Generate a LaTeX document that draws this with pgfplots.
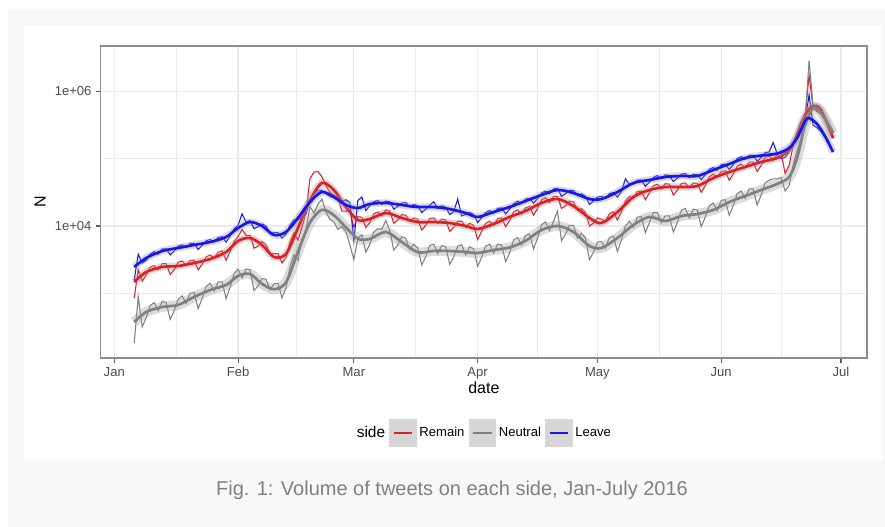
\documentclass[border=0pt]{standalone}
\usepackage{fontspec}
\setmainfont{Liberation Sans}
\usepackage{pgfplots}
\pgfplotsset{compat=1.18}
\usepackage{pgfplotstable}
\definecolor{remain}{RGB}{228,28,36}
\definecolor{neutral}{RGB}{128,128,128}
\definecolor{leave}{RGB}{22,22,238}
\definecolor{band}{RGB}{153,153,153}
\definecolor{keybg}{RGB}{214,214,214}
\definecolor{gridc}{RGB}{235,235,235}
\definecolor{framebg}{RGB}{248,248,248}
\definecolor{ticktext}{RGB}{77,77,77}
\definecolor{bordergray}{RGB}{140,140,140}
\definecolor{tickgray}{RGB}{90,90,90}
\definecolor{captiongray}{RGB}{128,128,128}

% x = day of 2016 (Jan 1 = 0); values = log10 of the daily tweet count N
\pgfplotstableread{
d R N L
5 2.93 2.26 3.20
6 3.35 2.95 3.58
7 3.18 2.50 3.45
8 3.27 2.64 3.49
9 3.39 2.82 3.58
10 3.41 2.86 3.62
11 3.35 2.74 3.58
12 3.44 2.88 3.66
13 3.44 2.86 3.66
14 3.28 2.61 3.57
15 3.35 2.74 3.63
16 3.46 2.91 3.70
17 3.48 2.96 3.72
18 3.41 2.85 3.68
19 3.49 3.00 3.74
20 3.49 3.01 3.74
21 3.35 2.77 3.65
22 3.43 2.92 3.71
23 3.54 3.10 3.78
24 3.57 3.15 3.80
25 3.52 3.03 3.76
26 3.61 3.17 3.83
27 3.63 3.17 3.84
28 3.49 2.92 3.76
29 3.62 3.09 3.85
30 3.77 3.29 3.96
31 3.84 3.36 4.01
32 3.95 3.23 4.18
33 3.86 3.36 4.06
34 3.86 3.35 4.08
35 3.67 3.04 3.96
36 3.70 3.11 3.99
37 3.77 3.22 4.03
38 3.72 3.21 4.00
39 3.58 3.05 3.89
40 3.59 3.14 3.90
41 3.59 3.15 3.90
42 3.45 2.93 3.82
43 3.53 3.08 3.88
44 3.76 3.39 4.01
45 3.90 3.57 4.09
46 3.79 3.49 4.09
47 3.98 3.80 4.13
48 4.20 3.94 4.18
49 4.70 4.29 4.38
50 4.80 4.19 4.48
51 4.81 4.32 4.52
52 4.73 4.40 4.53
53 4.60 4.21 4.48
54 4.50 4.10 4.44
55 4.46 4.06 4.42
56 4.42 3.95 4.38
57 4.22 3.99 4.36
58 4.22 3.92 4.39
59 4.24 3.72 4.35
60 3.98 3.50 3.78
61 4.14 3.82 4.38
62 4.13 3.87 4.43
63 3.98 3.61 4.23
64 4.05 3.73 4.30
65 4.18 3.91 4.36
66 4.21 3.96 4.38
67 4.15 3.95 4.32
68 4.24 4.08 4.37
69 4.22 3.93 4.36
70 4.04 3.64 4.25
71 4.09 3.72 4.29
72 4.17 3.84 4.34
73 4.16 3.82 4.35
74 4.07 3.65 4.28
75 4.12 3.73 4.32
76 4.10 3.67 4.30
77 3.94 3.42 4.20
78 4.01 3.54 4.25
79 4.11 3.71 4.31
80 4.12 3.73 4.36
81 4.04 3.59 4.26
82 4.10 3.71 4.30
83 4.09 3.69 4.28
84 3.92 3.43 4.17
85 3.98 3.54 4.21
86 4.07 3.70 4.40
87 4.07 3.72 4.15
88 3.98 3.57 4.17
89 4.04 3.69 4.20
90 4.01 3.66 4.17
91 3.80 3.40 4.05
92 3.92 3.53 4.12
93 4.04 3.70 4.20
94 4.07 3.73 4.23
95 4.01 3.60 4.19
96 4.11 3.73 4.26
97 4.12 3.72 4.27
98 3.99 3.47 4.18
99 4.08 3.60 4.25
100 4.21 3.79 4.33
101 4.24 3.83 4.37
102 4.18 3.72 4.33
103 4.27 3.86 4.40
104 4.29 3.88 4.41
105 4.16 3.66 4.34
106 4.26 3.82 4.41
107 4.39 4.02 4.49
108 4.42 4.06 4.52
109 4.35 3.93 4.48
110 4.44 4.07 4.55
111 4.44 4.22 4.56
112 4.26 3.78 4.44
113 4.30 3.88 4.48
114 4.37 4.01 4.53
115 4.36 4.01 4.53
116 4.23 3.82 4.45
117 4.26 3.89 4.48
118 4.20 3.82 4.44
119 4.00 3.50 4.32
120 4.04 3.61 4.37
121 4.12 3.76 4.43
122 4.10 3.77 4.44
123 4.07 3.67 4.41
124 4.18 3.83 4.48
125 4.21 3.85 4.50
126 4.09 3.62 4.43
127 4.21 3.79 4.51
128 4.37 4.00 4.70
129 4.44 4.07 4.62
130 4.41 3.98 4.62
131 4.51 4.13 4.68
132 4.52 4.14 4.68
133 4.39 3.90 4.59
134 4.49 4.05 4.65
135 4.60 4.20 4.72
136 4.62 4.20 4.75
137 4.55 4.05 4.70
138 4.63 4.15 4.76
139 4.62 4.15 4.75
140 4.46 3.91 4.66
141 4.53 4.05 4.71
142 4.63 4.23 4.77
143 4.64 4.26 4.78
144 4.57 4.12 4.72
145 4.64 4.25 4.77
146 4.63 4.24 4.76
147 4.50 3.99 4.69
148 4.60 4.13 4.76
149 4.73 4.30 4.84
150 4.77 4.34 4.87
151 4.72 4.23 4.83
152 4.81 4.38 4.91
153 4.82 4.39 4.92
154 4.68 4.16 4.84
155 4.77 4.30 4.91
156 4.89 4.48 5.00
157 4.92 4.52 5.03
158 4.86 4.41 4.99
159 4.95 4.55 5.05
160 4.95 4.55 5.05
161 4.81 4.31 4.96
162 4.90 4.46 5.02
163 5.02 4.64 5.09
164 5.04 4.68 5.10
165 4.98 4.70 5.24
166 5.06 4.70 5.08
167 5.09 4.72 5.00
168 4.78 4.52 5.02
169 4.90 4.60 5.10
170 5.19 4.90 5.20
171 5.40 5.12 5.34
172 5.56 5.30 5.47
173 5.63 5.55 5.54
174 6.24 6.46 5.95
175 5.76 5.80 5.50
176 5.70 5.72 5.46
177 5.66 5.70 5.40
178 5.57 5.62 5.31
179 5.45 5.50 5.20
180 5.30 5.38 5.10
}\rawtbl

\pgfplotstableread{
d y
5 3.168
8 3.316
12 3.391
16 3.405
20 3.450
24 3.509
28 3.613
31 3.777
34 3.822
37 3.718
40 3.539
43 3.584
46 3.970
49 4.380
52 4.639
55 4.535
58 4.282
61 4.089
64 4.104
68 4.193
72 4.119
76 4.059
80 4.059
84 4.044
88 4.000
91 3.955
95 4.030
99 4.134
103 4.223
107 4.342
111 4.401
115 4.297
119 4.119
122 4.044
126 4.208
130 4.431
134 4.535
138 4.579
142 4.579
146 4.594
150 4.713
154 4.802
158 4.877
162 4.951
166 5.010
169 5.129
171 5.352
173 5.649
175 5.783
177 5.724
180 5.307
}\smR

\pgfplotstableread{
d y
5 2.573
8 2.722
12 2.796
16 2.826
20 2.945
24 3.049
28 3.123
31 3.257
34 3.287
37 3.140
40 3.060
43 3.160
46 3.620
49 4.050
52 4.240
55 4.160
58 3.980
61 3.810
64 3.807
68 3.911
72 3.762
76 3.610
80 3.630
84 3.628
88 3.613
91 3.599
95 3.643
99 3.680
103 3.780
107 3.940
111 4.000
115 3.911
119 3.703
122 3.673
126 3.822
130 4.015
134 4.134
138 4.074
142 4.148
146 4.178
150 4.238
154 4.356
158 4.446
162 4.535
166 4.624
169 4.728
171 5.010
173 5.501
175 5.753
177 5.694
180 5.382
}\smN

\pgfplotstableread{
d y
5 3.391
8 3.524
12 3.628
16 3.673
20 3.718
24 3.762
28 3.836
31 3.970
34 4.059
37 4.000
40 3.866
43 3.911
46 4.119
49 4.356
52 4.505
55 4.431
58 4.312
61 4.267
64 4.327
68 4.342
72 4.312
76 4.282
80 4.282
84 4.252
88 4.193
91 4.134
95 4.208
99 4.282
103 4.371
107 4.460
111 4.535
115 4.490
119 4.401
122 4.401
126 4.505
130 4.639
134 4.683
138 4.728
142 4.743
146 4.743
150 4.832
154 4.921
158 5.010
162 5.047
166 5.077
169 5.159
171 5.307
173 5.560
174 5.605
176 5.515
178 5.337
180 5.099
}\smL

\begin{document}
\begin{tikzpicture}
\fill[white] (0pt,0pt) rectangle (663.75pt,-395.25pt);
\path[use as bounding box] (0pt,0pt) rectangle (663.75pt,-395.25pt);
\fill[framebg] (6pt,-7.5pt) rectangle (663.75pt,-395.25pt);
\fill[white] (18pt,-19.5pt) rectangle (661.5pt,-345pt);
\begin{axis}[
  at={(75.525pt,-34.5pt)}, anchor=north west,
  scale only axis, width=574.7pt, height=234pt,
  xmin=-3.4, xmax=188.5, ymin=2.038, ymax=6.675,
  axis line style={draw=bordergray, line width=0.9pt},
  tick align=outside, xtick pos=bottom, ytick pos=left,
  major tick length=3.4pt, minor tick length=0pt,
  tick style={draw=tickgray, line width=0.8pt},
  grid=both,
  major grid style={draw=gridc, line width=0.9pt},
  minor grid style={draw=gridc, line width=0.45pt},
  xtick={0,31,60,91,121,152,182},
  xticklabels={Jan,Feb,Mar,Apr,May,Jun,Jul},
  minor xtick={15.5,45.5,75.5,106,136.5,167},
  ytick={4,6}, yticklabels={1e+04,1e+06},
  minor ytick={3,5},
  ticklabel style={font=\fontsize{9.8}{11}\selectfont, text=ticktext},
  xlabel={date}, ylabel={N},
  label style={font=\fontsize{12}{14}\selectfont},
  xlabel style={at={(axis description cs:0.5,-0.0962)}, anchor=center},
  ylabel style={at={(axis description cs:-0.0792,0.5)}, anchor=center},
  legend columns=4,
  legend style={at={(0.5,-0.2404)}, anchor=center, draw=none, fill=none,
    font=\fontsize{9.8}{11}\selectfont,
    /tikz/every even column/.append style={column sep=1pt}},
  legend cell align=left,
]
\addlegendimage{empty legend}
\addlegendentry{\fontsize{11.6}{13}\selectfont side\hspace{2pt}}

% raw daily counts
\addplot[remain, line width=0.8pt, forget plot] table[x=d, y=R] {\rawtbl};
\addplot[neutral, line width=0.8pt, forget plot] table[x=d, y=N] {\rawtbl};
\addplot[leave, line width=0.8pt, forget plot] table[x=d, y=L] {\rawtbl};

% smoothed fits with confidence bands
\addplot[band, opacity=0.35, line width=5.5pt, smooth, line join=round, forget plot] table[x=d, y=y] {\smR};
\addplot[remain, line width=2pt, smooth,
  legend image code/.code={\fill[keybg] (0pt,-9.375pt) rectangle (18.75pt,9.375pt);
    \draw[remain, line width=2.2pt] (2.5pt,0pt) -- (16.25pt,0pt);}]
  table[x=d, y=y] {\smR};
\addlegendentry{Remain}
\addplot[band, opacity=0.35, line width=7.5pt, smooth, line join=round, forget plot] table[x=d, y=y] {\smN};
\addplot[neutral, line width=2pt, smooth,
  legend image code/.code={\fill[keybg] (0pt,-9.375pt) rectangle (18.75pt,9.375pt);
    \draw[neutral, line width=2.2pt] (2.5pt,0pt) -- (16.25pt,0pt);}]
  table[x=d, y=y] {\smN};
\addlegendentry{Neutral}
\addplot[band, opacity=0.35, line width=5.5pt, smooth, line join=round, forget plot] table[x=d, y=y] {\smL};
\addplot[leave, line width=2pt, smooth,
  legend image code/.code={\fill[keybg] (0pt,-9.375pt) rectangle (18.75pt,9.375pt);
    \draw[leave, line width=2.2pt] (2.5pt,0pt) -- (16.25pt,0pt);}]
  table[x=d, y=y] {\smL};
\addlegendentry{Leave}
\end{axis}
\node[font=\fontsize{15}{18}\selectfont, text=captiongray, anchor=center] at (339pt,-367.5pt) {Fig. 1: Volume of tweets on each side, Jan-July 2016};
\end{tikzpicture}
\end{document}
